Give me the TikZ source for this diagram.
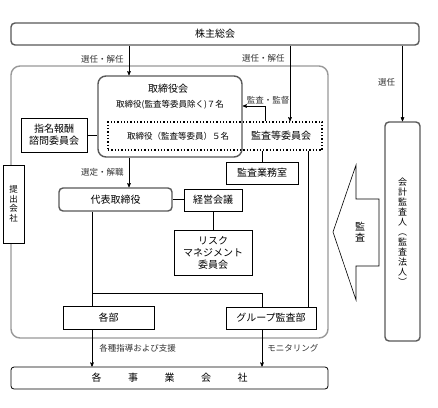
\documentclass[tikz,border=0pt]{standalone}
\usepackage{fontspec}
\setmainfont{Noto Sans CJK JP}
\usetikzlibrary{arrows,calc,positioning}

\tikzset{
  darkbox/.style={draw=black!65,line width=1.4pt,rounded corners=4pt,inner sep=0pt},
  plainbox/.style={draw,line width=0.6pt,inner sep=0pt},
  groupbox/.style={draw=black!40,line width=1.4pt,rounded corners=9pt,inner sep=0pt},
  lbl/.style={text=black!80,font=\fontsize{8.5}{9}\selectfont,inner sep=1pt},
  small/.style={font=\fontsize{8.5}{9}\selectfont},
}

\begin{document}
\begin{tikzpicture}[x=1pt,y=-1pt,>=stealth',line width=0.6pt,font=\fontsize{10}{12}\selectfont]
	\fill[white] (0,0) rectangle (438,407);
	\useasboundingbox (0,0) rectangle (438,407);
	% helper columns / rows
	\coordinate (x1) at (129,0);
	\coordinate (x2) at (290,0);
	\coordinate (x3) at (265,0);
	\coordinate (x4) at (308,0);
	\coordinate (x5) at (92,0);
	\coordinate (x6) at (262,0);
	\coordinate (y1) at (0,106);
	\coordinate (junc) at (92,293);

	\node[groupbox,minimum width=317,minimum height=272] (company) at (169.5,202) {};
	\node[darkbox,minimum width=408,minimum height=22] (kabu) at (215,34) {株主総会};
	\node[darkbox,rounded corners=8pt,minimum width=144,minimum height=81] (board) at (170,116.5) {};
	\node (boardttl) at (168,89) {取締役会};
	\node[small] (boardsub) at (170,105) {取締役(監査等委員除く)７名};
	\node[draw,dotted,line width=1.3pt,minimum width=214,minimum height=28] (audit) at (215,136) {};
	\node[small] (auditsub) at (178,136) {取締役（監査等委員）５名};
	\node (auditttl) at (281,136) {監査等委員会};
	\node[plainbox,minimum width=66,minimum height=34,align=center] (shimei) at (54,135) {指名報酬\\諮問委員会};
	\node[plainbox,fill=white,minimum width=21,minimum height=78,align=center,font=\fontsize{8.5}{9.5}\selectfont] (corp) at (13.5,204) {提\\出\\会\\社};
	\node[plainbox,minimum width=72,minimum height=22] (office) at (262,173) {監査業務室};
	\node[darkbox,minimum width=113,minimum height=23] (ceo) at (115.5,199.5) {代表取締役};
	\node[plainbox,minimum width=58,minimum height=22] (mgmt) at (213,200) {経営会議};
	\node[plainbox,minimum width=78,minimum height=45,align=center] (risk) at (213,252.5) {リスク\\マネジメント\\委員会};
	\node[plainbox,minimum width=91,minimum height=23] (depts) at (108.5,317.5) {各部};
	\node[plainbox,minimum width=90,minimum height=22] (grpaudit) at (271,318) {グループ監査部};
	\node[draw,rounded corners=3pt,line width=0.8pt,minimum width=317,minimum height=22] (subs) at (169.5,378)
		{各\hspace{26.5pt}事\hspace{26.5pt}業\hspace{26.5pt}会\hspace{26.5pt}社};
	\node[darkbox,minimum width=35,minimum height=219,align=center,font=\fontsize{9}{10}\selectfont] (auditor) at (402.5,231.5)
		{会\\計\\監\\査\\人\\︵\\監\\査\\法\\人\\︶};

	% audit arrow
	\draw (333,232) -- (356,165) -- (356,199) -- (379,199) -- (379,266) -- (356,266) -- (356,300) -- cycle;
	\node[align=center,font=\fontsize{10}{11}\selectfont] (kansa) at (360,232) {監\\査};

	\draw[->] (kabu.south -| x1) -- node[lbl,left=4pt,pos=0.45] {選任・解任} (board.north -| x1);
	\draw[->] (kabu.south -| x2) -- node[lbl,left=4pt,pos=0.17] {選任・解任} (audit.north -| x2);
	\draw[->] (kabu.south -| auditor.north) -- node[lbl,left=6pt,pos=0.48] {選任} (auditor.north);
	\draw[->] (audit.north -| x3) |- node[lbl,above=1pt,pos=0.5,xshift=3pt] {監査・監督} (board.east |- y1);
	\draw (shimei.east) -- (shimei.east -| board.west);
	\draw (audit.south -| office.north) -- (office.north);
	\draw[->] (board.south -| x1) -- node[lbl,left=4pt] {選定・解職} (ceo.north -| x1);
	\draw (ceo.east) -- (ceo.east -| mgmt.west);
	\draw (mgmt.south) -- (risk.north);
	\draw (audit.south -| x4) -- (grpaudit.north -| x4);
	\draw (ceo.south -| x5) -- (depts.north -| x5);
	\draw (junc) -| (grpaudit.north -| x6);
	\draw[->] (depts.south -| x5) -- node[lbl,right=6pt] {各種指導および支援} (subs.north -| x5);
	\draw[->] (grpaudit.south -| x6) -- node[lbl,right=4pt] {モニタリング} (subs.north -| x6);
\end{tikzpicture}
\end{document}
